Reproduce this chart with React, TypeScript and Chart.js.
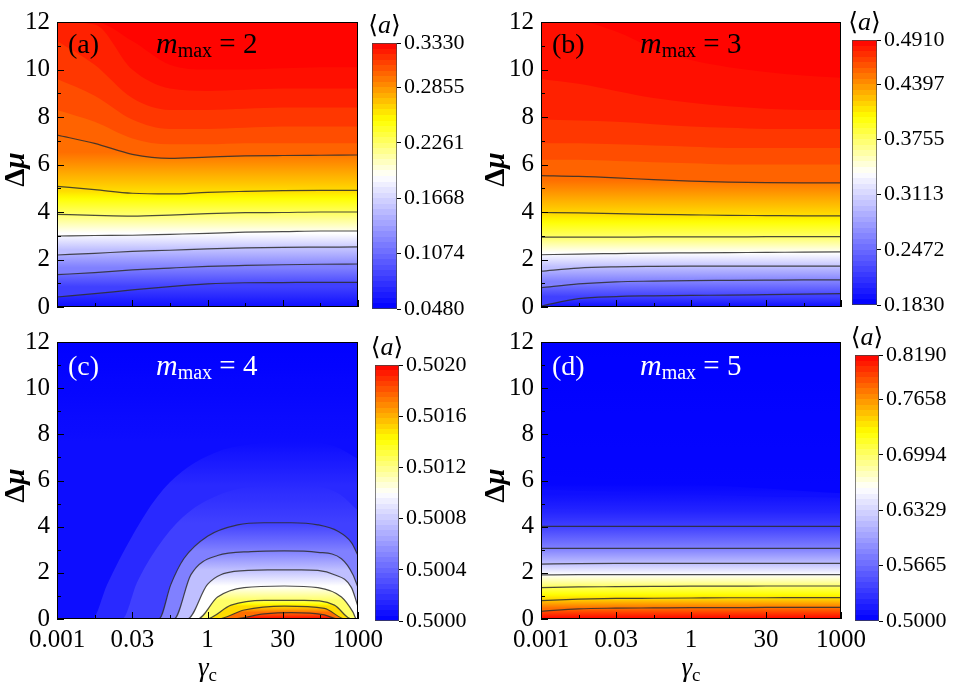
import React, { useEffect, useRef } from 'react';
import { Chart, registerables } from 'chart.js';

Chart.register(...registerables);

const SERIF = '"Liberation Serif", "DejaVu Serif", "Times New Roman", serif';
const LINE_COLOR = 'rgba(45,45,45,0.85)';

// ---------- axes (x in log10 of gamma_c) ----------
const logGammaGrid = [-3, -2.25, -1.5, -0.75, 0, 0.75, 1.5, 2.25, 3];
const xTickValues = [-3, -1.5, 0, 1.5, 3];
const xTickLabels = ['0.001', '0.03', '1', '30', '1000'];
const xMinorTicks = [-2.25, -0.75, 0.75, 2.25];
const yTickValues = [0, 2, 4, 6, 8, 10, 12];
const yMinorTicks = [1, 3, 5, 7, 9, 11];
// contour levels as fraction of the colour range
const contourLevels = [0.125, 0.25, 0.375, 0.5, 0.625, 0.75, 0.875];

// ---------- panel (a) m_max = 2 : Δμ of each contour along logGammaGrid ----------
const aLine1 = [0.42, 0.56, 0.72, 0.86, 0.97, 1.02, 1.03, 1.04, 1.04];
const aLine2 = [1.36, 1.45, 1.56, 1.64, 1.71, 1.75, 1.78, 1.8, 1.81];
const aLine3 = [2.19, 2.26, 2.34, 2.39, 2.45, 2.49, 2.51, 2.52, 2.53];
const aLine4 = [2.99, 3.01, 3.02, 3.06, 3.1, 3.15, 3.17, 3.2, 3.2];
const aLine5 = [3.9, 3.86, 3.83, 3.87, 3.93, 3.97, 3.98, 4.0, 4.0];
const aLine6 = [5.08, 4.94, 4.79, 4.76, 4.83, 4.87, 4.9, 4.91, 4.91];
const aLine7 = [7.24, 6.89, 6.43, 6.26, 6.31, 6.36, 6.38, 6.39, 6.4];
const aBand1 = [8.3, 7.8, 7.1, 6.85, 6.85, 6.9, 6.9, 6.9, 6.9];
const aBand2 = [9.6, 8.9, 7.9, 7.5, 7.5, 7.55, 7.6, 7.6, 7.6];
const aBand3 = [11.2, 10.2, 8.8, 8.3, 8.3, 8.35, 8.4, 8.4, 8.4];
const aBand4 = [12, 11.9, 10.0, 9.2, 9.1, 9.15, 9.2, 9.2, 9.2];
const aBand5 = [12, 12, 11.2, 10.2, 10.0, 10.0, 10.05, 10.1, 10.1];

// ---------- panel (b) m_max = 3 ----------
const bLine1 = [0.04, 0.35, 0.44, 0.47, 0.49, 0.5, 0.52, 0.54, 0.56];
const bLine2 = [0.81, 0.97, 1.06, 1.09, 1.11, 1.12, 1.13, 1.14, 1.14];
const bLine3 = [1.51, 1.64, 1.69, 1.71, 1.72, 1.72, 1.72, 1.72, 1.72];
const bLine4 = [2.2, 2.23, 2.25, 2.27, 2.28, 2.29, 2.3, 2.31, 2.32];
const bLine5 = [2.94, 2.94, 2.94, 2.95, 2.95, 2.95, 2.96, 2.96, 2.96];
const bLine6 = [3.98, 3.96, 3.93, 3.9, 3.88, 3.86, 3.85, 3.84, 3.84];
const bLine7 = [5.53, 5.5, 5.44, 5.36, 5.3, 5.26, 5.24, 5.23, 5.23];
const bBand1 = [6.2, 6.2, 6.15, 6.1, 6.05, 6.0, 6.0, 6.0, 6.0];
const bBand2 = [6.9, 6.9, 6.85, 6.8, 6.75, 6.7, 6.7, 6.7, 6.7];
const bBand3 = [7.9, 7.85, 7.8, 7.7, 7.6, 7.55, 7.5, 7.5, 7.5];
const bBand4 = [9.6, 9.4, 9.1, 8.8, 8.6, 8.45, 8.35, 8.3, 8.3];
const bBand5 = [12, 12, 11.6, 10.9, 10.4, 10.1, 9.9, 9.75, 9.65];

// ---------- panel (c) m_max = 4 : domes (own x samples) ----------
const cLine7X = [-3, 0.47, 1.13, 1.67, 2.33, 2.6, 3];
const cLine7Y = [0, 0, 0.22, 0.28, 0.18, 0, 0];
const cLine6X = [-3, 0.2, 0.73, 1.53, 2.33, 2.75, 3];
const cLine6Y = [0, 0, 0.39, 0.56, 0.46, 0, 0];
const cLine5X = [-3, -0.03, 0.47, 1.13, 1.93, 2.53, 2.87, 3];
const cLine5Y = [0, 0, 0.6, 0.81, 0.81, 0.6, 0, 0];
const cLine4X = [-3, -0.2, 0.2, 0.73, 1.53, 2.2, 2.67, 2.9, 2.97, 3];
const cLine4Y = [0, 0, 0.95, 1.36, 1.43, 1.36, 0.95, 0.3, 0, 0];
const cLine3X = [-3, -0.4, 0, 0.53, 1.2, 1.87, 2.53, 2.87, 3];
const cLine3Y = [0, 0, 1.5, 2.06, 2.13, 2.13, 1.92, 1.36, 0.53];
const cLine2X = [-3, -0.67, -0.33, 0.2, 0.87, 1.53, 2.2, 2.67, 2.9, 3];
const cLine2Y = [0, 0, 1.92, 2.75, 2.92, 2.95, 2.89, 2.61, 1.92, 1.36];
const cLine1X = [-3, -0.97, -0.73, -0.47, 0, 0.6, 1.13, 1.67, 2.2, 2.6, 2.87, 3];
const cLine1Y = [0, 0, 1.5, 2.62, 3.59, 4.08, 4.17, 4.17, 4.08, 3.8, 3.31, 2.75];
const cBand1X = [-3, -1.7, -1.4, -1.0, -0.5, 0.2, 1.0, 1.9, 2.6, 3];
const cBand1Y = [0, 0, 1.6, 3.1, 4.4, 5.35, 5.75, 5.8, 5.45, 4.7];
const cBand2X = [-3, -2.3, -2.0, -1.5, -1.0, -0.5, 0.2, 1.0, 1.87, 2.53, 3];
const cBand2Y = [0, 0, 1.5, 3.6, 5.3, 6.4, 7.25, 7.6, 7.69, 7.48, 6.93];

// ---------- panel (d) m_max = 5 ----------
const dLine7 = [0.33, 0.44, 0.47, 0.48, 0.49, 0.49, 0.5, 0.5, 0.5];
const dLine6 = [0.8, 0.86, 0.89, 0.9, 0.91, 0.92, 0.92, 0.93, 0.93];
const dLine5 = [1.36, 1.39, 1.4, 1.41, 1.42, 1.42, 1.43, 1.43, 1.43];
const dLine4 = [1.91, 1.92, 1.92, 1.92, 1.92, 1.92, 1.92, 1.92, 1.92];
const dLine3 = [2.38, 2.4, 2.41, 2.41, 2.41, 2.41, 2.41, 2.41, 2.41];
const dLine2 = [3.06, 3.06, 3.06, 3.06, 3.06, 3.06, 3.06, 3.06, 3.06];
const dLine1 = [4.01, 4.01, 4.01, 4.01, 4.01, 4.01, 4.01, 4.01, 4.01];
const dBand1 = [4.75, 4.73, 4.71, 4.69, 4.67, 4.65, 4.63, 4.61, 4.6];
const dBand2 = [5.6, 5.55, 5.5, 5.45, 5.4, 5.35, 5.3, 5.28, 5.25];
const dBand3 = [6.25, 6.15, 6.05, 5.95, 5.85, 5.75, 5.65, 5.55, 5.45];

// ---------- colour bars ----------
const cbTicksA = [0.048, 0.1074, 0.1668, 0.2261, 0.2855, 0.333];
const cbLabelsA = ['0.0480', '0.1074', '0.1668', '0.2261', '0.2855', '0.3330'];
const cbTicksB = [0.183, 0.2472, 0.3113, 0.3755, 0.4397, 0.491];
const cbLabelsB = ['0.1830', '0.2472', '0.3113', '0.3755', '0.4397', '0.4910'];
const cbTicksC = [0.5, 0.5004, 0.5008, 0.5012, 0.5016, 0.502];
const cbLabelsC = ['0.5000', '0.5004', '0.5008', '0.5012', '0.5016', '0.5020'];
const cbTicksD = [0.5, 0.5665, 0.6329, 0.6994, 0.7658, 0.819];
const cbLabelsD = ['0.5000', '0.5665', '0.6329', '0.6994', '0.7658', '0.8190'];

// ---------- colour map (blue - white - yellow - red) ----------
const COLOR_STOPS: [number, number[]][] = [
  [0, [0, 0, 255]],
  [0.5, [255, 255, 255]],
  [0.71, [255, 255, 0]],
  [1, [255, 0, 0]],
];
function cmap(t: number): string {
  const tt = Math.max(0, Math.min(1, t));
  for (let i = 1; i < COLOR_STOPS.length; i++) {
    const [t1, c1] = COLOR_STOPS[i];
    const [t0, c0] = COLOR_STOPS[i - 1];
    if (tt <= t1) {
      const f = (tt - t0) / (t1 - t0);
      const c = c0.map((v, k) => Math.round(v + (c1[k] - v) * f));
      return `rgb(${c[0]},${c[1]},${c[2]})`;
    }
  }
  return 'rgb(255,0,0)';
}

interface Bound { xs: number[]; ys: number[]; t: number; stroke: boolean; solid: boolean }
const line = (ys: number[], t: number): Bound => ({ xs: logGammaGrid, ys, t, stroke: true, solid: false });
const band = (ys: number[], t: number, solid = true): Bound => ({ xs: logGammaGrid, ys, t, stroke: false, solid });
const dome = (xs: number[], ys: number[], t: number, stroke = true): Bound => ({ xs, ys, t, stroke, solid: false });

interface Box { left: number; top: number; width: number; height: number }
interface PanelSpec {
  key: string; letter: string; mmax: string; textColor: string;
  canvas: Box; area: { left: number; top: number; right: number; bottom: number };
  showX: boolean; bounds: Bound[]; tBottom: number; tTop: number; topSolid: boolean;
  dmuX: number; refMax: boolean;
}

const L = contourLevels;
const panels: PanelSpec[] = [
  {
    key: 'a', letter: '(a)', mmax: '2', textColor: '#000',
    canvas: { left: 0, top: 0, width: 395, height: 330 },
    area: { left: 57, top: 19, right: 358, bottom: 307 },
    showX: false, tBottom: 0.03, tTop: 1, topSolid: true, dmuX: 24, refMax: false,
    bounds: [
      line(aLine1, L[0]), line(aLine2, L[1]), line(aLine3, L[2]), line(aLine4, L[3]),
      line(aLine5, L[4]), line(aLine6, L[5]), line(aLine7, L[6]),
      band(aBand1, 0.9), band(aBand2, 0.925), band(aBand3, 0.95), band(aBand4, 0.975), band(aBand5, 0.99),
    ],
  },
  {
    key: 'b', letter: '(b)', mmax: '3', textColor: '#000',
    canvas: { left: 480, top: 0, width: 395, height: 330 },
    area: { left: 541, top: 19, right: 841, bottom: 307 },
    showX: false, tBottom: 0.03, tTop: 1, topSolid: true, dmuX: 504, refMax: false,
    bounds: [
      line(bLine1, L[0]), line(bLine2, L[1]), line(bLine3, L[2]), line(bLine4, L[3]),
      line(bLine5, L[4]), line(bLine6, L[5]), line(bLine7, L[6]),
      band(bBand1, 0.9), band(bBand2, 0.925), band(bBand3, 0.95), band(bBand4, 0.975), band(bBand5, 0.99),
    ],
  },
  {
    key: 'c', letter: '(c)', mmax: '4', textColor: '#fff',
    canvas: { left: 0, top: 320, width: 395, height: 373 },
    area: { left: 57, top: 332, right: 358, bottom: 619 },
    showX: true, tBottom: 1, tTop: 0, topSolid: false, dmuX: 24, refMax: true,
    bounds: [
      dome(cLine7X, cLine7Y, L[6]), dome(cLine6X, cLine6Y, L[5]), dome(cLine5X, cLine5Y, L[4]),
      dome(cLine4X, cLine4Y, L[3]), dome(cLine3X, cLine3Y, L[2]), dome(cLine2X, cLine2Y, L[1]),
      dome(cLine1X, cLine1Y, L[0]), dome(cBand1X, cBand1Y, 0.08, false), dome(cBand2X, cBand2Y, 0.025, false),
    ],
  },
  {
    key: 'd', letter: '(d)', mmax: '5', textColor: '#fff',
    canvas: { left: 480, top: 320, width: 395, height: 373 },
    area: { left: 541, top: 332, right: 841, bottom: 619 },
    showX: true, tBottom: 1, tTop: 0, topSolid: false, dmuX: 504, refMax: false,
    bounds: [
      line(dLine7, L[6]), line(dLine6, L[5]), line(dLine5, L[4]), line(dLine4, L[3]),
      line(dLine3, L[2]), line(dLine2, L[1]), line(dLine1, L[0]),
      band(dBand1, 0.07, false), band(dBand2, 0.03, false), band(dBand3, 0.01, false),
    ],
  },
];

interface CbSpec { key: string; canvas: Box; bar: { left: number; top: number; right: number; bottom: number }; ticks: number[]; labels: string[] }
const colorbars: CbSpec[] = [
  { key: 'a', canvas: { left: 362, top: 0, width: 120, height: 330 }, bar: { left: 372, top: 43, right: 397, bottom: 309 }, ticks: cbTicksA, labels: cbLabelsA },
  { key: 'b', canvas: { left: 842, top: 0, width: 116, height: 330 }, bar: { left: 852, top: 40, right: 877, bottom: 305 }, ticks: cbTicksB, labels: cbLabelsB },
  { key: 'c', canvas: { left: 365, top: 320, width: 120, height: 373 }, bar: { left: 375, top: 365, right: 399, bottom: 621 }, ticks: cbTicksC, labels: cbLabelsC },
  { key: 'd', canvas: { left: 845, top: 320, width: 113, height: 373 }, bar: { left: 855, top: 355, right: 879, bottom: 621 }, ticks: cbTicksD, labels: cbLabelsD },
];

// ---------- helpers ----------
const mean = (a: number[]) => a.reduce((s, v) => s + v, 0) / a.length;
const refLevel = (p: PanelSpec, b: Bound) => (p.refMax ? Math.max(...b.ys) : mean(b.ys));

function bandPaint(chart: any, lowT: number, highT: number, lowM: number | null, highM: number | null, solid: boolean) {
  const mid = cmap((lowT + highT) / 2);
  if (solid) return mid;
  const a = chart.chartArea;
  const ys = chart.scales && chart.scales.y;
  if (!a || !ys) return mid;
  const y0 = lowM == null ? a.bottom : ys.getPixelForValue(lowM);
  const y1 = highM == null ? a.top : ys.getPixelForValue(highM);
  if (Math.abs(y0 - y1) < 1) return mid;
  const g = chart.ctx.createLinearGradient(0, y0, 0, y1);
  for (let s = 0; s <= 8; s++) g.addColorStop(s / 8, cmap(lowT + ((highT - lowT) * s) / 8));
  return g;
}

// Every band is painted from its upper boundary down to the axis start; lower bands
// are painted later (on top), so neighbouring bands share edges without seams.
function buildDatasets(p: PanelSpec) {
  const b = p.bounds;
  return b.map((src, i) => {
    const lowT = i === 0 ? p.tBottom : b[i - 1].t;
    const highT = src.t;
    const lowM = i === 0 ? null : refLevel(p, b[i - 1]);
    const highM = refLevel(p, src);
    const stroke = src.stroke;
    return {
      data: src.xs.map((x, k) => ({ x, y: src.ys[k] })),
      fill: 'start',
      backgroundColor: (ctx: any) => bandPaint(ctx.chart, lowT, highT, lowM, highM, src.solid),
      borderColor: stroke ? LINE_COLOR : 'rgba(0,0,0,0)',
      borderWidth: stroke ? 1.2 : 1,
      pointRadius: 0,
      pointHoverRadius: 0,
      cubicInterpolationMode: 'monotone',
      segment: {
        borderColor: (c: any) =>
          !stroke || (c.p0.parsed.y <= 0.001 && c.p1.parsed.y <= 0.001) ? 'rgba(0,0,0,0)' : undefined,
      },
    };
  });
}

type Part = { text: string; font: string; dy?: number };
function drawParts(ctx: CanvasRenderingContext2D, x: number, y: number, parts: Part[], align: 'left' | 'center' = 'left') {
  let w = 0;
  parts.forEach((pt) => { ctx.font = pt.font; w += ctx.measureText(pt.text).width; });
  let cx = align === 'center' ? x - w / 2 : x;
  ctx.textAlign = 'left';
  ctx.textBaseline = 'alphabetic';
  parts.forEach((pt) => {
    ctx.font = pt.font;
    ctx.fillText(pt.text, cx, y + (pt.dy || 0));
    cx += ctx.measureText(pt.text).width;
  });
}

function decorPlugin(p: PanelSpec) {
  const last = p.bounds[p.bounds.length - 1];
  return {
    id: 'decor_' + p.key,
    // region above the highest boundary: painted as the plot background
    beforeDraw(chart: any) {
      const { ctx, chartArea: a } = chart;
      ctx.save();
      ctx.fillStyle = bandPaint(chart, last.t, p.tTop, refLevel(p, last), null, p.topSolid);
      ctx.fillRect(a.left, a.top, a.right - a.left, a.bottom - a.top);
      ctx.restore();
    },
    afterDraw(chart: any) {
      const { ctx, chartArea: a, scales } = chart;
      const xs = scales.x, ys = scales.y;
      ctx.save();
      ctx.strokeStyle = '#000';
      ctx.lineWidth = 1;
      ctx.beginPath();
      const hTick = (v: number, len: number) => {
        const py = Math.round(ys.getPixelForValue(v)) + 0.5;
        ctx.moveTo(a.left, py); ctx.lineTo(a.left + len, py);
      };
      const vTick = (v: number, len: number) => {
        const px = Math.round(xs.getPixelForValue(v)) + 0.5;
        ctx.moveTo(px, a.bottom); ctx.lineTo(px, a.bottom - len);
      };
      yTickValues.forEach((v) => hTick(v, 7));
      yMinorTicks.forEach((v) => hTick(v, 4));
      xTickValues.forEach((v) => vTick(v, 7));
      xMinorTicks.forEach((v) => vTick(v, 4));
      ctx.stroke();
      ctx.strokeRect(Math.round(a.left) + 0.5, Math.round(a.top) + 0.5, Math.round(a.right - a.left) - 1, Math.round(a.bottom - a.top) - 1);

      // panel annotations
      ctx.fillStyle = p.textColor;
      const base = a.top + (p.showX ? 33 : 31);
      drawParts(ctx, a.left + 11, base, [{ text: p.letter, font: `28px ${SERIF}` }]);
      drawParts(ctx, a.left + 99, base, [
        { text: 'm', font: `italic 30px ${SERIF}` },
        { text: 'max', font: `20px ${SERIF}`, dy: 4 },
        { text: ' = ', font: `29px ${SERIF}` },
        { text: p.mmax, font: `29px ${SERIF}` },
      ]);

      // y title Δμ
      ctx.fillStyle = '#000';
      ctx.save();
      ctx.translate(p.dmuX - p.canvas.left, (a.top + a.bottom) / 2 + 5);
      ctx.rotate(-Math.PI / 2);
      drawParts(ctx, 0, 0, [
        { text: 'Δ', font: `bold 29px ${SERIF}` },
        { text: 'μ', font: `italic bold 29px ${SERIF}` },
      ], 'center');
      ctx.restore();

      // x title γc
      if (p.showX) {
        drawParts(ctx, (a.left + a.right) / 2, 676 - p.canvas.top, [
          { text: 'γ', font: `italic 27px ${SERIF}` },
          { text: 'c', font: `19px ${SERIF}`, dy: 5 },
        ], 'center');
      }
      ctx.restore();
    },
  };
}

function mainConfig(p: PanelSpec): any {
  const padTop = p.area.top - p.canvas.top;
  const yAxisW = p.area.left - p.canvas.left;
  const padRight = p.canvas.left + p.canvas.width - p.area.right;
  const xAxisH = p.canvas.top + p.canvas.height - p.area.bottom;
  return {
    type: 'line',
    data: { datasets: buildDatasets(p) },
    options: {
      animation: false,
      responsive: false,
      devicePixelRatio: 1,
      events: [],
      layout: { padding: { left: 0, top: padTop, right: padRight, bottom: 0 } },
      plugins: {
        legend: { display: false },
        tooltip: { enabled: false },
        filler: { drawTime: 'beforeDatasetsDraw', propagate: false },
      },
      scales: {
        x: {
          type: 'linear', min: -3, max: 3,
          grid: { display: false, drawTicks: false },
          border: { display: false },
          afterFit: (s: any) => { s.height = xAxisH; },
          afterBuildTicks: (s: any) => { s.ticks = xTickValues.map((v) => ({ value: v })); },
          ticks: {
            display: p.showX, autoSkip: false, maxRotation: 0, minRotation: 0, padding: 6,
            color: '#000', font: { family: SERIF, size: 25 },
            callback: (_v: any, i: number) => xTickLabels[i],
          },
        },
        y: {
          type: 'linear', min: 0, max: 12,
          grid: { display: false, drawTicks: false },
          border: { display: false },
          afterFit: (s: any) => { s.width = yAxisW; },
          afterBuildTicks: (s: any) => { s.ticks = yTickValues.map((v) => ({ value: v })); },
          ticks: { padding: 7, color: '#000', font: { family: SERIF, size: 25 } },
        },
      },
    },
    plugins: [decorPlugin(p)],
  };
}

function cbPaint(chart: any) {
  const a = chart.chartArea;
  if (!a) return cmap(0.5);
  const g = chart.ctx.createLinearGradient(0, a.bottom, 0, a.top);
  const N = 48;
  for (let i = 0; i < N; i++) {
    const c = cmap((i + 0.5) / N);
    g.addColorStop(i / N, c);
    g.addColorStop((i + 1) / N, c);
  }
  return g;
}

function cbConfig(c: CbSpec): any {
  const padL = c.bar.left - c.canvas.left;
  const padT = c.bar.top - c.canvas.top;
  const padB = c.canvas.top + c.canvas.height - c.bar.bottom;
  const axisW = 78;
  const padR = Math.max(0, c.canvas.width - padL - (c.bar.right - c.bar.left) - axisW);
  const min = c.ticks[0];
  const max = c.ticks[c.ticks.length - 1];
  return {
    type: 'bar',
    data: {
      labels: [''],
      datasets: [{
        data: [[min, max]],
        backgroundColor: (ctx: any) => cbPaint(ctx.chart),
        borderColor: '#444',
        borderWidth: 1,
        borderSkipped: false,
        barPercentage: 1,
        categoryPercentage: 1,
      }],
    },
    options: {
      animation: false,
      responsive: false,
      devicePixelRatio: 1,
      events: [],
      layout: { padding: { left: padL, top: padT, right: padR, bottom: padB } },
      plugins: { legend: { display: false }, tooltip: { enabled: false } },
      scales: {
        x: { display: false },
        y: {
          position: 'right', min, max,
          afterFit: (s: any) => { s.width = axisW; },
          afterBuildTicks: (s: any) => { s.ticks = c.ticks.map((v) => ({ value: v })); },
          grid: { drawOnChartArea: false, drawTicks: true, tickLength: 4, color: '#000' },
          border: { display: false },
          ticks: {
            padding: 3, color: '#000', font: { family: SERIF, size: 22 },
            callback: (_v: any, i: number) => c.labels[i],
          },
        },
      },
    },
    plugins: [{
      id: 'cbtitle_' + c.key,
      afterDraw(chart: any) {
        const { ctx, chartArea: a } = chart;
        ctx.save();
        ctx.fillStyle = '#000';
        drawParts(ctx, (a.left + a.right) / 2, a.top - 10, [
          { text: '⟨', font: `25px "DejaVu Serif", ${SERIF}` },
          { text: 'a', font: `italic 26px ${SERIF}` },
          { text: '⟩', font: `25px "DejaVu Serif", ${SERIF}` },
        ], 'center');
        ctx.restore();
      },
    }],
  };
}

function ChartCanvas({ box, make }: { box: Box; make: () => any }) {
  const ref = useRef<HTMLCanvasElement>(null);
  useEffect(() => {
    const chart = new Chart(ref.current as HTMLCanvasElement, make());
    return () => chart.destroy();
  }, []);
  return (
    <canvas
      ref={ref}
      width={box.width}
      height={box.height}
      style={{ position: 'absolute', left: box.left, top: box.top, width: box.width, height: box.height }}
    />
  );
}

export default function App() {
  return (
    <div style={{ position: 'absolute', left: 0, top: 0, width: 958, height: 693, background: '#fff', overflow: 'hidden' }}>
      {panels.map((p) => (
        <ChartCanvas key={'p' + p.key} box={p.canvas} make={() => mainConfig(p)} />
      ))}
      {colorbars.map((c) => (
        <ChartCanvas key={'c' + c.key} box={c.canvas} make={() => cbConfig(c)} />
      ))}
    </div>
  );
}
